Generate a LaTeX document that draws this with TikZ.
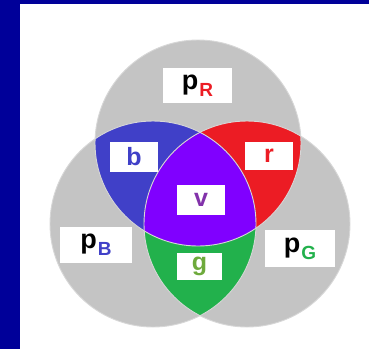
\documentclass[tikz,border=0pt]{standalone}
\usepackage{fontspec}
\setmainfont{Liberation Sans}
\definecolor{framebl}{RGB}{0,0,153}
\definecolor{setgray}{RGB}{196,196,196}
\definecolor{setedge}{RGB}{215,215,215}
\definecolor{regb}{RGB}{64,64,200}
\definecolor{regr}{RGB}{236,28,36}
\definecolor{regg}{RGB}{34,177,76}
\definecolor{regv}{RGB}{128,0,255}
\definecolor{txtv}{RGB}{130,50,170}
\definecolor{txtg}{RGB}{110,170,60}
\newcommand{\psub}[2]{p\kern1pt\raisebox{-7pt}{\fontsize{19}{19}\selectfont\color{#1}#2}}
\tikzset{
 setdisk/.style={fill=setgray},
 setrim/.style={draw=setedge,line width=.9pt},
 bigbox/.style={fill=white,inner sep=0,minimum width=70pt,minimum height=36pt,font=\fontsize{27}{27}\selectfont\bfseries},
 smallbox/.style={fill=white,inner sep=0,minimum width=48pt,minimum height=29pt,font=\fontsize{25}{25}\selectfont\bfseries}
}
\begin{document}
\begin{tikzpicture}[x=1pt,y=-1pt]
\path[use as bounding box] (0,0) rectangle (369,349);
\fill[framebl] (0,0) rectangle (20,349);
\fill[framebl] (0,0) rectangle (369,4);
\coordinate (CR) at (198,143);
\coordinate (CB) at (153,224);
\coordinate (CG) at (247,224);
\def\rad{103}
% the three sets
\foreach \c in {CR,CB,CG}
 \fill[setdisk] (\c) circle[radius=\rad];
% pairwise parts
\begin{scope}
 \clip (CR) circle[radius=\rad];
 \fill[regb] (CB) circle[radius=\rad];
 \fill[regr] (CG) circle[radius=\rad];
\end{scope}
\begin{scope}
 \clip (CB) circle[radius=\rad];
 \fill[regg] (CG) circle[radius=\rad];
\end{scope}
% common part
\begin{scope}
 \clip (CR) circle[radius=\rad];
 \clip (CB) circle[radius=\rad];
 \fill[regv] (CG) circle[radius=\rad];
\end{scope}
\foreach \c in {CR,CB,CG}
 \draw[setrim] (\c) circle[radius=\rad];
% labels
\node[bigbox,minimum width=69pt,minimum height=35pt] (pR) at (197.5,85.5) {\psub{regr}{R}};
\node[bigbox,minimum width=72pt] (pB) at (96,245) {\psub{regb}{B}};
\node[bigbox,minimum height=37pt] (pG) at (300,248.5) {\psub{regg}{G}};
\node[smallbox,minimum height=30pt,text=regb] (b) at (134,157) {b};
\node[smallbox,minimum height=28pt,text=regr] (r) at (269,156) {r};
\node[smallbox,minimum height=30pt,text=txtv] (v) at (201,200) {v};
\node[smallbox,minimum width=45pt,minimum height=27pt,text=txtg] (g) at (199.5,266.5) {g};
\end{tikzpicture}
\end{document}
